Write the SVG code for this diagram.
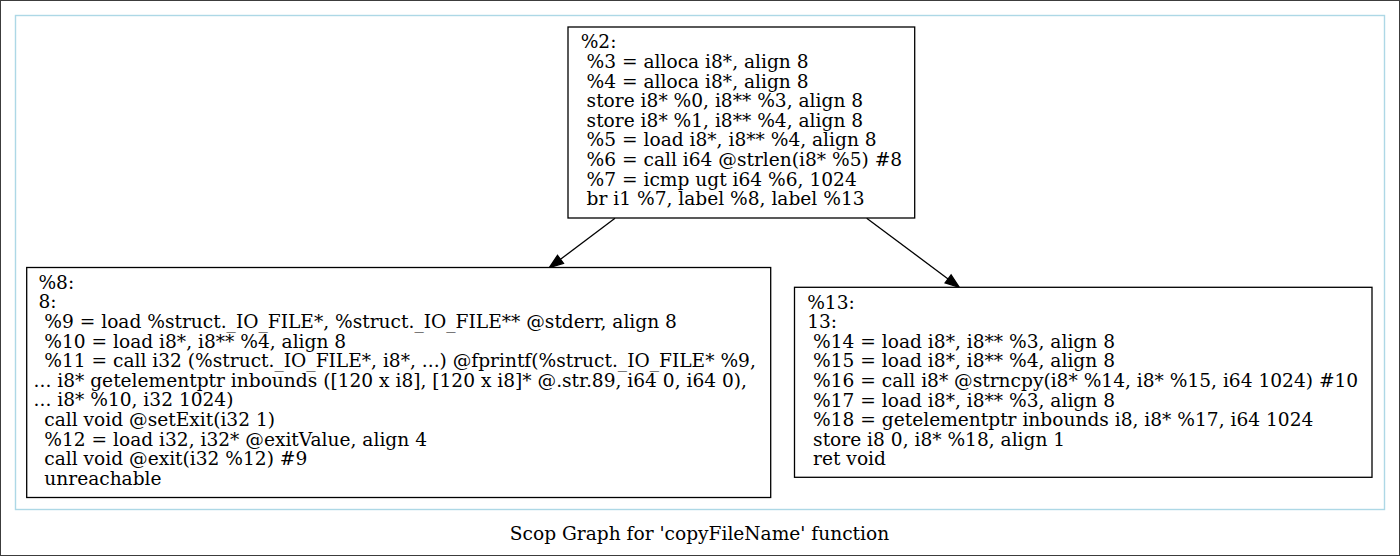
<svg xmlns="http://www.w3.org/2000/svg" width="1400" height="556" viewBox="0 0 1400 556" xml:space="preserve">
<style>
  .frame { fill: #ffffff; stroke: #3c3c3c; stroke-width: 1; }
  .cluster { fill: none; stroke: #add8e6; stroke-width: 1.4; }
  .node rect { fill: #ffffff; stroke: #000000; stroke-width: 1.3; }
  text { font-family: "DejaVu Serif", "Liberation Serif", serif; font-size: 18.6px; fill: #000000; white-space: pre; }
  .edge { fill: none; stroke: #000000; stroke-width: 1.3; }
  .head { fill: #000000; stroke: #000000; stroke-width: 1.3; }
</style>
<rect class="frame" x="0.5" y="0.5" width="1399" height="555"/>
<rect class="cluster" x="15.5" y="15.5" width="1369" height="494"/>
<text x="699.5" y="540" text-anchor="middle">Scop Graph for 'copyFileName' function</text>

<g id="connectors">
  <g id="edge-2-8">
    <path class="edge" d="M615,218.3 L560.5,259.3"/>
    <polygon class="head" points="563.5,263.3 549.3,267.7 557.5,255.3"/>
  </g>
  <g id="edge-2-13">
    <path class="edge" d="M866.7,218.3 L948.1,278.9"/>
    <polygon class="head" points="945.1,282.9 959.3,287.3 951.1,274.9"/>
  </g>
</g>

<g id="node-2" class="node">
  <rect x="568" y="27" width="346.7" height="191"/>
  <text x="580.7" y="48.3">%2:</text>
  <text x="580.7" y="67.9"> %3 = alloca i8*, align 8</text>
  <text x="580.7" y="87.5"> %4 = alloca i8*, align 8</text>
  <text x="580.7" y="107.1"> store i8* %0, i8** %3, align 8</text>
  <text x="580.7" y="126.7"> store i8* %1, i8** %4, align 8</text>
  <text x="580.7" y="146.3"> %5 = load i8*, i8** %4, align 8</text>
  <text x="580.7" y="165.9"> %6 = call i64 @strlen(i8* %5) #8</text>
  <text x="580.7" y="185.5"> %7 = icmp ugt i64 %6, 1024</text>
  <text x="580.7" y="205.1"> br i1 %7, label %8, label %13</text>
</g>

<g id="node-8" class="node">
  <rect x="26.7" y="267.5" width="744" height="230"/>
  <text x="38.4" y="288.8">%8:</text>
  <text x="38.4" y="308.4">8:</text>
  <text x="38.4" y="328"> %9 = load %struct._IO_FILE*, %struct._IO_FILE** @stderr, align 8</text>
  <text x="38.4" y="347.6"> %10 = load i8*, i8** %4, align 8</text>
  <text x="38.4" y="367.2"> %11 = call i32 (%struct._IO_FILE*, i8*, ...) @fprintf(%struct._IO_FILE* %9,</text>
  <text x="33.6" y="386.8">... i8* getelementptr inbounds ([120 x i8], [120 x i8]* @.str.89, i64 0, i64 0),</text>
  <text x="33.6" y="406.4">... i8* %10, i32 1024)</text>
  <text x="38.4" y="426"> call void @setExit(i32 1)</text>
  <text x="38.4" y="445.6"> %12 = load i32, i32* @exitValue, align 4</text>
  <text x="38.4" y="465.2"> call void @exit(i32 %12) #9</text>
  <text x="38.4" y="484.8"> unreachable</text>
</g>

<g id="node-13" class="node">
  <rect x="794.5" y="287.3" width="577.5" height="190"/>
  <text x="807.2" y="308.6">%13:</text>
  <text x="807.2" y="328.2">13:</text>
  <text x="807.2" y="347.8"> %14 = load i8*, i8** %3, align 8</text>
  <text x="807.2" y="367.4"> %15 = load i8*, i8** %4, align 8</text>
  <text x="807.2" y="387"> %16 = call i8* @strncpy(i8* %14, i8* %15, i64 1024) #10</text>
  <text x="807.2" y="406.6"> %17 = load i8*, i8** %3, align 8</text>
  <text x="807.2" y="426.2"> %18 = getelementptr inbounds i8, i8* %17, i64 1024</text>
  <text x="807.2" y="445.8"> store i8 0, i8* %18, align 1</text>
  <text x="807.2" y="465.4"> ret void</text>
</g>
</svg>
